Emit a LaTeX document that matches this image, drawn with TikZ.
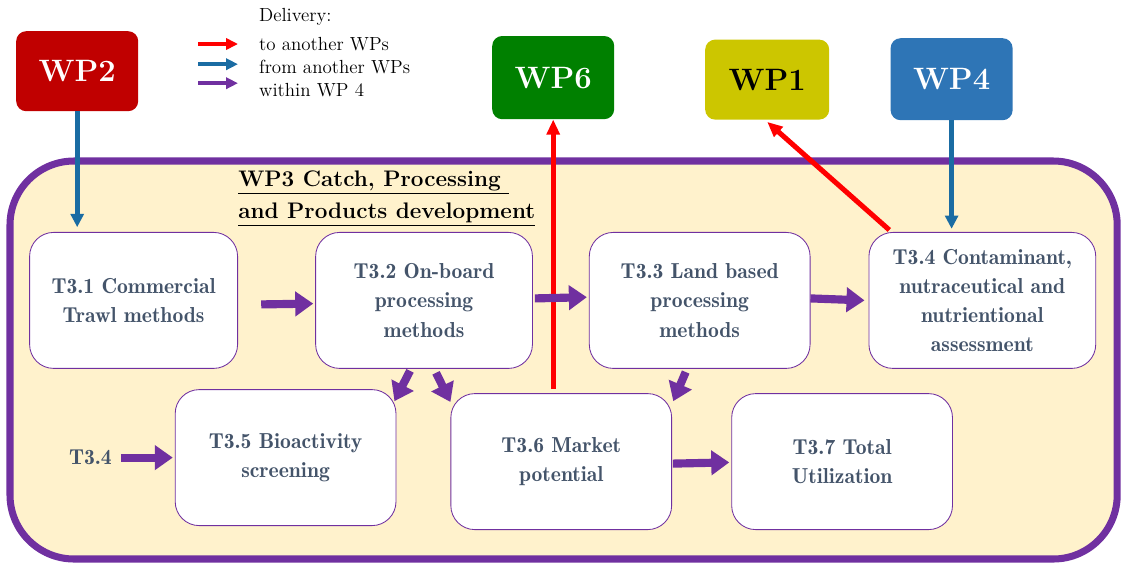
\documentclass[tikz,border=0pt]{standalone}
\usepackage{xcolor}
\usepackage{tikz}
\usetikzlibrary{arrows.meta, positioning, calc}
\definecolor{wpviolet}{HTML}{7030A0}
\definecolor{wpcream}{HTML}{FFF2CC}
\definecolor{tasktext}{HTML}{44546A}
\definecolor{wpred}{HTML}{C00000}
\definecolor{wpgreen}{HTML}{008000}
\definecolor{wpolive}{HTML}{CCC600}
\definecolor{wpblue}{HTML}{2E75B6}
\definecolor{deliverblue}{HTML}{1A6CA3}
\definecolor{deliverred}{HTML}{FF0000}
\tikzset{
  wpframe/.style={rectangle, rounded corners=1.6cm, draw=wpviolet, line width=5pt,
    fill=wpcream, minimum width=27.68cm, minimum height=9.95cm},
  wpbox/.style={rectangle, rounded corners=0.25cm, minimum width=3.05cm,
    minimum height=2cm, text=white, font=\fontsize{22}{26}\selectfont\bfseries},
  task/.style={rectangle, rounded corners=0.6cm, minimum width=5.45cm,
    minimum height=3.4cm, draw=wpviolet, line width=0.6pt, fill=white,
    align=center, text=tasktext,
    font=\fontsize{15.4}{20.8}\selectfont\fontseries{b}\selectfont},
  keytext/.style={anchor=base west, inner sep=0pt, font=\fontsize{13.5}{17}\selectfont},
  toarrow/.style={-{Triangle[length=0.38cm, width=0.32cm]}, line width=3.6pt, draw=deliverred},
  fromarrow/.style={-{Triangle[length=0.33cm, width=0.32cm]}, line width=3.6pt, draw=deliverblue},
  inarrow/.style={-{Triangle[length=0.45cm, width=0.6cm]}, line width=5.8pt, draw=wpviolet},
  keyarrow/.style={line width=2.8pt, -{Triangle[length=0.3cm, width=0.28cm]}}
}

\begin{document}
\begin{tikzpicture}
\useasboundingbox (0,0) rectangle (28.3,-14.225);

\node (wp3) [wpframe] at (14.09,-9.0) {};
\node (title) [anchor=west, align=left, inner sep=0pt,
  font=\fontsize{16}{22.5}\selectfont\bfseries] at (5.95,-4.96)
  {\underline{WP3 Catch, Processing }\\ \underline{and Products development}};

\node (wp2) [wpbox, fill=wpred]                 at (1.93,-1.78)  {WP2};
\node (wp6) [wpbox, fill=wpgreen, minimum height=2.08cm] at (13.83,-1.94) {WP6};
\node (wp1) [wpbox, fill=wpolive, text=black, minimum width=3.1cm] at (19.18,-1.99) {WP1};
\node (wp4) [wpbox, fill=wpblue, minimum height=2.05cm] at (23.79,-1.98) {WP4};

\node (leg0) [keytext] at (6.47,-0.525) {Delivery:};
\node (leg1) [keytext] at (6.47,-1.25)  {to another WPs};
\node (leg2) [keytext] at (6.47,-1.825) {from another WPs};
\node (leg3) [keytext] at (6.47,-2.4)   {within WP 4};

\node (t31) [task, minimum width=5.2cm]      at (3.34,-7.51) {T3.1 Commercial\\Trawl methods};
\node (t32) [task, minimum width=5.42cm, right=1.93cm of t31] {T3.2 On-board\\processing\\methods};
\node (t33) [task, minimum width=5.52cm, right=1.4cm of t32]  {T3.3 Land based\\processing\\methods};
\node (t34) [task, minimum width=5.67cm, right=1.45cm of t33]
  {T3.4 Contaminant,\\nutraceutical and\\nutrientional\\assessment};
\node (t35) [task, minimum width=5.52cm]      at (7.14,-11.44) {T3.5 Bioactivity\\screening};
\node (t36) [task, minimum width=5.52cm, right=1.35cm of t35, yshift=-0.1cm] {T3.6 Market\\potential};
\node (t37) [task, minimum width=5.52cm, right=1.48cm of t36] {T3.7 Total\\Utilization};
\node (t34in) [left=1.45cm of t35, text=tasktext,
  font=\fontsize{15.4}{18}\selectfont\fontseries{b}\selectfont] {T3.4};

\draw [keyarrow, draw=deliverred]  ([xshift=-1.52cm, yshift=0.15cm]leg1.base west)
  -- ([xshift=-0.52cm, yshift=0.15cm]leg1.base west);
\draw [keyarrow, draw=deliverblue] ([xshift=-1.52cm, yshift=0.22cm]leg2.base west)
  -- ([xshift=-0.52cm, yshift=0.22cm]leg2.base west);
\draw [keyarrow, draw=wpviolet]    ([xshift=-1.52cm, yshift=0.32cm]leg3.base west)
  -- ([xshift=-0.52cm, yshift=0.32cm]leg3.base west);

\draw [fromarrow] (wp2.south) -- ([yshift=0.12cm]wp2.south |- t31.north);
\draw [fromarrow] (wp4.south) -- ([yshift=0.08cm]wp4.south |- t34.north);
\draw [toarrow] ([yshift=0.1cm]wp6.south |- t36.north) -- (wp6.south);
\draw [toarrow] ([xshift=0.52cm, yshift=0.05cm]t34.north west) -- ([yshift=-0.05cm]wp1.south);

\draw [inarrow] ([xshift=0.58cm, yshift=-0.1cm]t31.east) -- ([xshift=-0.05cm, yshift=-0.08cm]t32.west);
\draw [inarrow] ([xshift=0.05cm, yshift=0.05cm]t32.east) -- ([xshift=-0.05cm, yshift=0.08cm]t33.west);
\draw [inarrow] ([yshift=0.05cm]t33.east) -- ([xshift=-0.1cm]t34.west);
\draw [inarrow] ([xshift=0.1cm]t34in.east) -- ([xshift=-0.05cm]t35.west);
\draw [inarrow] ([xshift=0.02cm, yshift=-0.05cm]t36.east) -- ([xshift=-0.05cm, yshift=-0.02cm]t37.west);
\draw [inarrow] ([xshift=-0.35cm, yshift=-0.05cm]t32.south) -- ([shift={(-0.05,-0.3)}]t35.north east);
\draw [inarrow] ([xshift=0.3cm, yshift=-0.1cm]t32.south) -- ([yshift=-0.22cm]t36.north west);
\draw [inarrow] ([xshift=-0.35cm, yshift=-0.08cm]t33.south) -- ([shift={(0.03,-0.2)}]t36.north east);
\end{tikzpicture}
\end{document}
